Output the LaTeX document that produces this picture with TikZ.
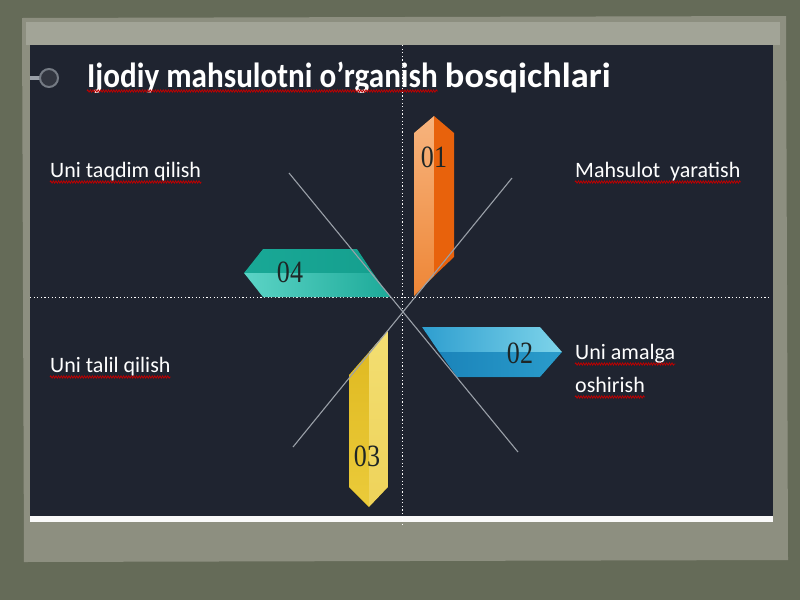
\documentclass[tikz,border=0pt]{standalone}
\usepackage{fontspec}
\setmainfont{Carlito}
\newfontfamily\numfont{Liberation Serif}
\usetikzlibrary{decorations.pathmorphing}

\definecolor{olive}{HTML}{656B58}
\definecolor{paper}{HTML}{8D8F80}
\definecolor{paperlight}{HTML}{A2A497}
\definecolor{panel}{HTML}{1F2430}
\definecolor{linegray}{HTML}{9AA0A8}
\definecolor{numdark}{HTML}{1E2626}
\definecolor{orgA}{HTML}{F7B47E}
\definecolor{orgB}{HTML}{EE8636}
\definecolor{orgC}{HTML}{E8620C}
\definecolor{bluA}{HTML}{2E9ECF}
\definecolor{bluB}{HTML}{7ED4EA}
\definecolor{bluC}{HTML}{1B84BA}
\definecolor{bluD}{HTML}{2A9CCB}
\definecolor{yelA}{HTML}{E0BA22}
\definecolor{yelB}{HTML}{EBCB3A}
\definecolor{yelC}{HTML}{F3DE72}
\definecolor{yelD}{HTML}{EED35A}
\definecolor{tlA}{HTML}{19A896}
\definecolor{tlB}{HTML}{15A08F}
\definecolor{tlC}{HTML}{5CD4C6}
\definecolor{tlD}{HTML}{1DAA99}

\begin{document}
\begin{tikzpicture}[x=1pt,y=-1pt]
			\tikzstyle{lbl}=[text=white,font=\fontsize{22}{26}\selectfont,anchor=base west,inner sep=0pt]
			\tikzstyle{head}=[text=white,font=\bfseries\fontsize{35}{40}\selectfont,anchor=base west,inner sep=0pt]
			\tikzstyle{num}=[text=numdark,font=\numfont\fontsize{31}{31}\selectfont,xscale=0.84,inner sep=0pt]
			\tikzstyle{guide}=[white,line width=1pt,dash pattern=on 1.2pt off 2.4pt]
			\tikzstyle{diag}=[draw=linegray,line width=1.1pt]
			\tikzstyle{typo}=[draw=red!75!black,line width=0.8pt,decorate,decoration={snake,amplitude=1.1pt,segment length=2.6pt}]

			\useasboundingbox (0,0) rectangle (800,600);
			% paper and slide
			\fill[olive] (0,0) rectangle (800,600);
			\fill[paper] (22,18) -- (786,16) -- (788,560) -- (24,562) -- cycle;
			\fill[paperlight] (26,22) rectangle (780,45);
			\fill[panel] (30,45) rectangle (773,516);
			\fill[white!95!gray] (30,516) rectangle (773,522);

			% title
			\draw[linegray,line width=4pt] (30,78) -- (40,78);
			\node[circle,draw=linegray!70!panel,fill=panel!80!gray,line width=2pt,minimum size=18pt,inner sep=0pt] (knob) at (49,78) {};
			\node[head,xscale=0.89] (title) at (87,87) {Ijodiy mahsulotni o’rganish};
			\node[head,xscale=1.04] (title2) at ([xshift=7pt]title.base east) {bosqichlari};
			\draw[typo] ([yshift=-4pt]title.base west) -- ([yshift=-4pt]title.base east);

			% guides
			\coordinate (vtop) at (402,45);
			\coordinate (vbot) at (402,526);
			\coordinate (hleft) at (30,297);
			\coordinate (hright) at (770,297);
			\draw[guide] (vtop) -- (vbot);
			\draw[guide] (hleft) -- (hright);

			% 01
			\fill[top color=orgA,bottom color=orgB] (414,296) -- (414,133) -- (434,116) -- (434,276) -- cycle;
			\fill[orgC] (434,116) -- (454,133) -- (454,257) -- (434,276) -- cycle;
			% 02
			\fill[left color=bluA,right color=bluB] (422,327) -- (540,327) -- (562,352) -- (439,352) -- cycle;
			\fill[left color=bluC,right color=bluD] (439,352) -- (562,352) -- (540,377) -- (457,377) -- cycle;
			% 03
			\fill[top color=yelA,bottom color=yelB] (349,375) -- (369,352) -- (369,507) -- (349,487) -- cycle;
			\fill[top color=yelC,bottom color=yelD] (369,352) -- (388,330) -- (388,487) -- (369,507) -- cycle;
			% 04
			\fill[left color=tlA,right color=tlB] (244,273) -- (263,249) -- (357,249) -- (373,273) -- cycle;
			\fill[left color=tlC,right color=tlD] (244,273) -- (373,273) -- (390,297) -- (263,297) -- cycle;

			% diagonals
			\coordinate (d1a) at (289,173);
			\coordinate (d1b) at (518,452);
			\coordinate (d2a) at (512,178);
			\coordinate (d2b) at (293,447);
			\draw[diag] (d1a) -- (d1b);
			\draw[diag] (d2a) -- (d2b);

			\node[num] (n01) at (434,157) {01};
			\node[num] (n02) at (520,353) {02};
			\node[num] (n03) at (367,456) {03};
			\node[num] (n04) at (290,272) {04};

			% stage labels
			\node[lbl] (taqdim) at (50,177) {Uni taqdim qilish};
			\node[lbl] (yaratish) at (575,177) {Mahsulot\ \ yaratish};
			\node[lbl] (talil) at (50,372) {Uni talil qilish};
			\node[lbl] (amalga) at (575,359) {Uni amalga};
			\node[lbl] (oshirish) at (575,392) {oshirish};
			\foreach \w in {taqdim,yaratish,talil,amalga,oshirish}
				\draw[typo] ([yshift=-5pt]\w.base west) -- ([yshift=-5pt]\w.base east);
\end{tikzpicture}
\end{document}
